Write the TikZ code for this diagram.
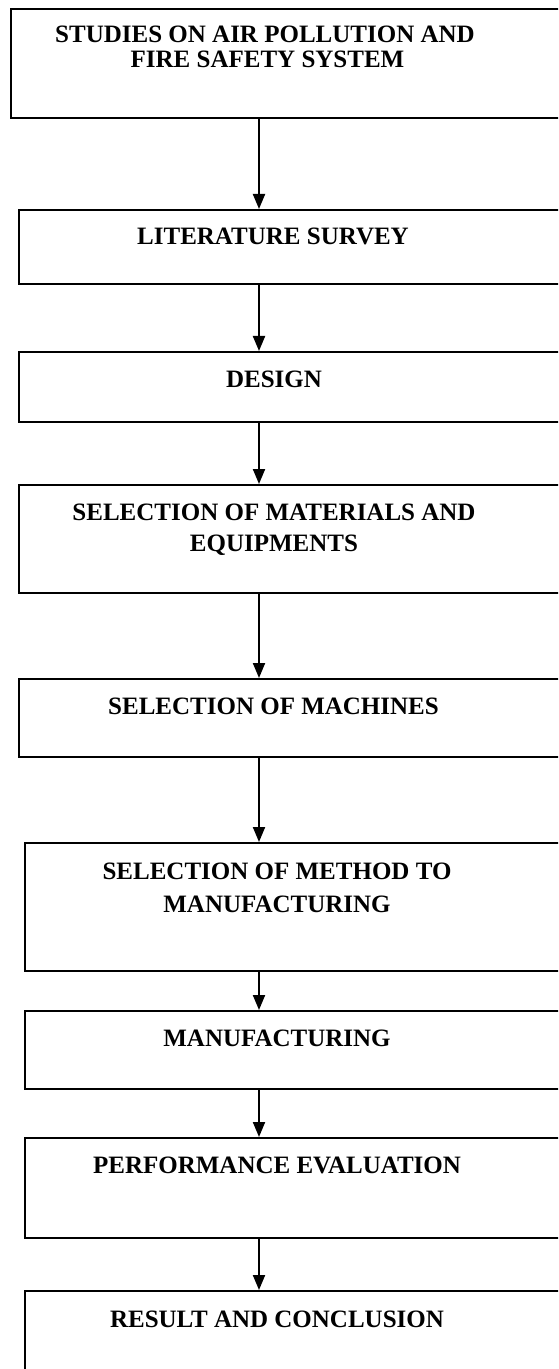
\documentclass[tikz,border=0pt]{standalone}
\usepackage{fontspec}
\setmainfont{Liberation Serif}
\usetikzlibrary{arrows.meta}
\begin{document}
\begin{tikzpicture}[x=0.5pt,y=-0.5pt,
  stepbox/.style={draw=black, line width=0.85pt, rectangle, inner sep=0pt, anchor=north west},
  lbl/.style={inner sep=0pt, anchor=base, font=\fontsize{12.5pt}{15pt}\selectfont\bfseries},
  arr/.style={draw=black, line width=1pt, -{Triangle[width=6pt,length=7.5pt]}}]
\useasboundingbox (0,0) rectangle (558,1369);
\clip (0,0) rectangle (558,1369);
\coordinate (ax) at (259,0);
% boxes
\node[stepbox, minimum width=285pt, minimum height=54.5pt] (b1) at (10,8) {};
\node[stepbox, minimum width=281pt, minimum height=37pt] (b2) at (18,209) {};
\node[stepbox, minimum width=281pt, minimum height=35pt] (b3) at (18,351) {};
\node[stepbox, minimum width=281pt, minimum height=54pt] (b4) at (18,484) {};
\node[stepbox, minimum width=281pt, minimum height=39pt] (b5) at (18,678) {};
\node[stepbox, minimum width=278pt, minimum height=64pt] (b6) at (24,842) {};
\node[stepbox, minimum width=278pt, minimum height=39pt] (b7) at (24,1010) {};
\node[stepbox, minimum width=278pt, minimum height=50pt] (b8) at (24,1137) {};
\node[stepbox, minimum width=278pt, minimum height=60pt] (b9) at (24,1290) {};
% texts
\node[lbl] (t1a) at (265,43) {STUDIES ON AIR POLLUTION AND};
\node[lbl] (t1b) at (267.5,68) {FIRE SAFETY SYSTEM};
\node[lbl] (t2) at (273,245) {LITERATURE SURVEY};
\node[lbl] (t3) at (274,387) {DESIGN};
\node[lbl] (t4a) at (274,520) {SELECTION OF MATERIALS AND};
\node[lbl] (t4b) at (274,551) {EQUIPMENTS};
\node[lbl] (t5) at (273.5,714) {SELECTION OF MACHINES};
\node[lbl] (t6a) at (277,879) {SELECTION OF METHOD TO};
\node[lbl] (t6b) at (277,912) {MANUFACTURING};
\node[lbl] (t7) at (277,1046) {MANUFACTURING};
\node[lbl] (t8) at (277,1173) {PERFORMANCE EVALUATION};
\node[lbl] (t9) at (277,1327) {RESULT AND CONCLUSION};
% connectors
\draw[arr] (b1.south -| ax) -- (b2.north -| ax);
\draw[arr] (b2.south -| ax) -- (b3.north -| ax);
\draw[arr] (b3.south -| ax) -- (b4.north -| ax);
\draw[arr] (b4.south -| ax) -- (b5.north -| ax);
\draw[arr] (b5.south -| ax) -- (b6.north -| ax);
\draw[arr] (b6.south -| ax) -- (b7.north -| ax);
\draw[arr] (b7.south -| ax) -- (b8.north -| ax);
\draw[arr] (b8.south -| ax) -- (b9.north -| ax);
\end{tikzpicture}
\end{document}
